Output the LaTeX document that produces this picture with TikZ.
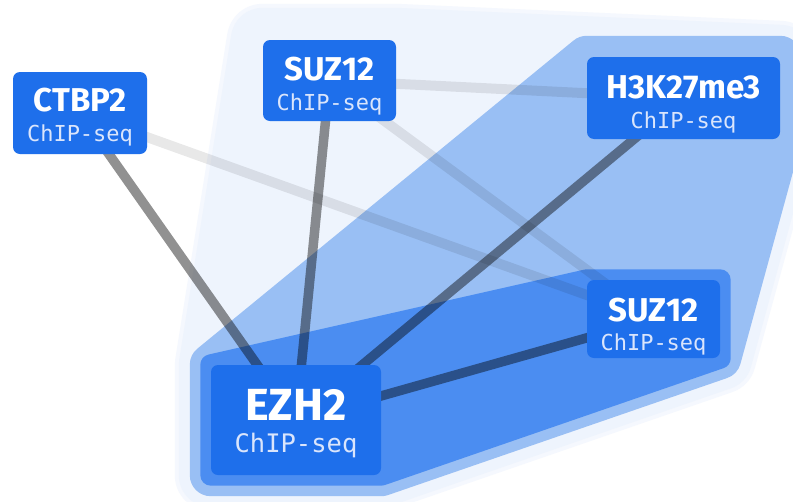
\documentclass[tikz,border=0pt]{standalone}
\usepackage{fontspec}
\usetikzlibrary{calc}
\newfontfamily\titlefont{Fira Sans}
\newfontfamily\subfont{DejaVu Sans Mono}
\definecolor{nodeblue}{RGB}{30,111,235}
\definecolor{hullmid}{RGB}{75,141,241}
\definecolor{hulllight}{RGB}{153,191,244}
\definecolor{hullpale}{RGB}{238,244,253}
\definecolor{hullhaze}{RGB}{245,248,254}
\definecolor{subtext}{RGB}{218,229,252}
\pgfdeclarelayer{hulls}
\pgfdeclarelayer{edges}
\pgfsetlayers{hulls,edges,main}
\begin{document}
\begin{tikzpicture}[x=1pt,y=-1pt,
  chipbox/.style={fill=nodeblue, rounded corners=7pt, inner sep=0pt},
  ttl/.style={anchor=base, inner sep=0pt, text=white, font=\titlefont\bfseries\fontsize{#1}{#1}\selectfont},
  sub/.style={anchor=base, inner sep=0pt, text=subtext, font=\subfont\fontsize{#1}{#1}\selectfont},
  hull/.style 2 args={fill=#1, draw=#1, line width=#2, line join=round},
  strong/.style={line width=9.5pt, draw=black, draw opacity=0.43},
  weak/.style={line width=10pt, draw=black, draw opacity=0.09}]
\useasboundingbox (0,0) rectangle (793,501);

% gene / mark boxes
\node[chipbox, minimum width=134pt, minimum height=82pt] (ctbp) at (80,113) {};
\node[chipbox, minimum width=133pt, minimum height=81pt] (suzt) at (329.5,80.5) {};
\node[chipbox, minimum width=193pt, minimum height=82pt] (h3) at (683.5,98) {};
\node[chipbox, minimum width=133pt, minimum height=78pt] (suzr) at (653.5,319) {};
\node[chipbox, minimum width=170pt, minimum height=110pt] (ezh) at (296,420) {};

% labels
\node[ttl=33] (ctbp-t) at ($(ctbp.center)+(0,-2)$) {CTBP2};
\node[sub=22] (ctbp-s) at ($(ctbp.center)+(0,28)$) {ChIP-seq};
\node[ttl=33] (suzt-t) at ($(suzt.center)+(0,0)$) {SUZ12};
\node[sub=22] (suzt-s) at ($(suzt.center)+(0,30)$) {ChIP-seq};
\node[ttl=33] (h3-t) at ($(h3.center)+(0,0)$) {H3K27me3};
\node[sub=22] (h3-s) at ($(h3.center)+(0,30)$) {ChIP-seq};
\node[ttl=33] (suzr-t) at ($(suzr.center)+(0,2)$) {SUZ12};
\node[sub=22] (suzr-s) at ($(suzr.center)+(0,31)$) {ChIP-seq};
\node[ttl=45] (ezh-t) at ($(ezh.center)+(0,0)$) {EZH2};
\node[sub=25.5] (ezh-s) at ($(ezh.center)+(0,32)$) {ChIP-seq};

% page background and group hulls
\begin{pgfonlayer}{hulls}
  \fill[white] (0,0) rectangle (793,501);
  \path[hull={hullhaze}{72pt}]
    (ezh.south west) -- (ezh.north west) -- (suzt.north west) -- (suzt.north east)
    -- (h3.north east) -- (h3.south east) -- (suzr.south east) -- (ezh.south east) -- cycle;
  \path[hull={hullpale}{64pt}]
    (ezh.south west) -- (ezh.north west) -- (suzt.north west) -- (suzt.north east)
    -- (h3.north east) -- (h3.south east) -- (suzr.south east) -- (ezh.south east) -- cycle;
  \path[hull={hulllight}{42pt}]
    (ezh.south west) -- (ezh.north west) -- (h3.north west) -- (h3.north east)
    -- (h3.south east) -- (suzr.south east) -- (ezh.south east) -- cycle;
  \path[hull={hullmid}{21pt}]
    (ezh.south west) -- (ezh.north west) -- (suzr.north west) -- (suzr.north east)
    -- (suzr.south east) -- (ezh.south east) -- cycle;
\end{pgfonlayer}

% connections
\begin{pgfonlayer}{edges}
  \draw[weak] (ctbp.center) -- (suzr.center);
  \draw[weak] (suzt.center) -- (h3.center);
  \draw[weak] (suzt.center) -- (suzr.center);
  \draw[strong] (ctbp.center) -- (ezh.center);
  \draw[strong] (suzt.center) -- (ezh.center);
  \draw[strong] (h3.center) -- (ezh.center);
  \draw[strong] (suzr.center) -- (ezh.center);
\end{pgfonlayer}
\end{tikzpicture}
\end{document}
